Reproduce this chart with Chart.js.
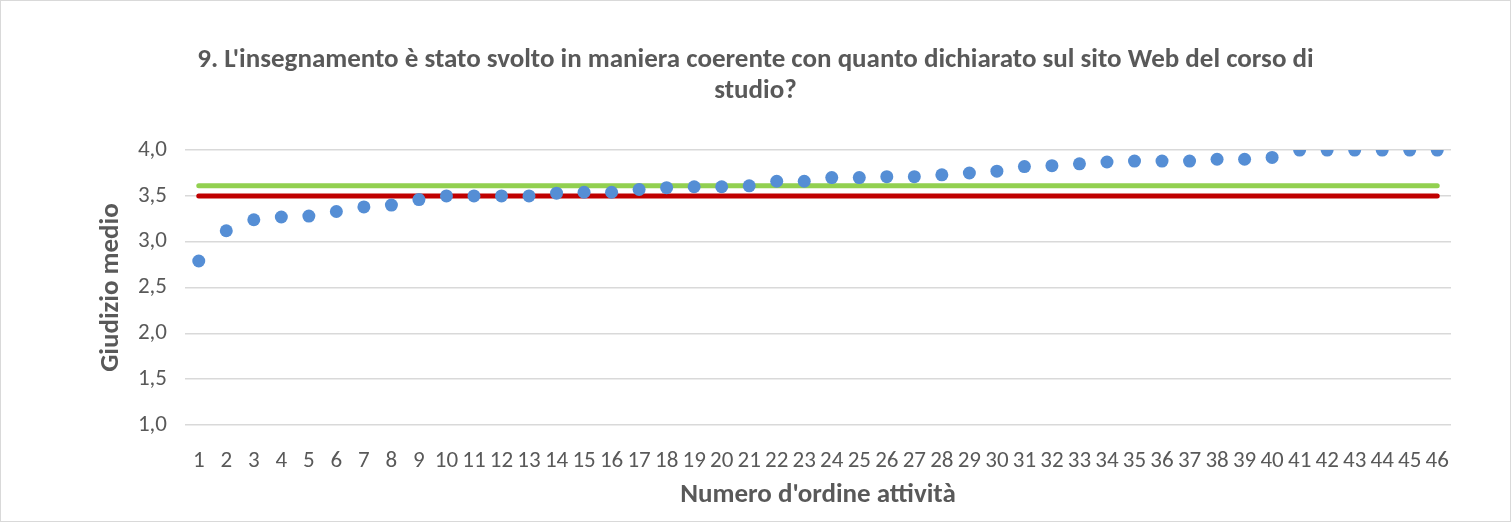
<!DOCTYPE html>
<html lang="it">
<head>
<meta charset="utf-8">
<script src="https://cdn.jsdelivr.net/npm/chart.js@4"></script>
<style>
  body { margin: 0; background: #fff; }
  #contenitore {
    width: 1511px;
    height: 522px;
    box-sizing: border-box;
    border: 1px solid #d9d9d9;
    position: relative;
  }
</style>
</head>
<body>
<div id="contenitore"><canvas id="grafico"></canvas></div>
<script>
const attivita = [
  "1", "2", "3", "4", "5", "6", "7", "8", "9", "10",
  "11", "12", "13", "14", "15", "16", "17", "18", "19", "20",
  "21", "22", "23", "24", "25", "26", "27", "28", "29", "30",
  "31", "32", "33", "34", "35", "36", "37", "38", "39", "40",
  "41", "42", "43", "44", "45", "46",
];

const giudizioMedio = [
  2.79, 3.12, 3.24, 3.27, 3.28, 3.33, 3.38, 3.40, 3.46, 3.50,
  3.50, 3.50, 3.50, 3.53, 3.54, 3.54, 3.57, 3.59, 3.60, 3.60,
  3.61, 3.66, 3.66, 3.70, 3.70, 3.71, 3.71, 3.73, 3.75, 3.77,
  3.82, 3.83, 3.85, 3.87, 3.88, 3.88, 3.88, 3.90, 3.90, 3.92,
  4.00, 4.00, 4.00, 4.00, 4.00, 4.00,
];

// linee di riferimento (verde e rossa)
const mediaVerde = 3.61;
const sogliaRossa = 3.5;

const titolo = [
  "9. L'insegnamento è stato svolto in maniera coerente con quanto dichiarato sul sito Web del corso di",
  "studio?",
];

const FONT = "Carlito, 'Open Sans', sans-serif";
const GRIGIO = "#595959";

const primo = attivita[0];
const ultimo = attivita[attivita.length - 1];

new Chart(document.getElementById("grafico"), {
  type: "line",
  data: {
    labels: attivita,
    datasets: [
      {
        label: "Giudizio medio",
        data: giudizioMedio,
        showLine: false,
        pointRadius: 6.5,
        pointHoverRadius: 6.5,
        pointBackgroundColor: "#558ed5",
        pointBorderWidth: 0,
        order: 0,
      },
      {
        label: "Media",
        data: [{ x: primo, y: mediaVerde }, { x: ultimo, y: mediaVerde }],
        borderColor: "#92d050",
        borderWidth: 5,
        borderCapStyle: "round",
        pointRadius: 0,
        order: 1,
      },
      {
        label: "Soglia",
        data: [{ x: primo, y: sogliaRossa }, { x: ultimo, y: sogliaRossa }],
        borderColor: "#c00000",
        borderWidth: 5,
        borderCapStyle: "round",
        pointRadius: 0,
        order: 1,
      },
    ],
  },
  options: {
    responsive: true,
    maintainAspectRatio: false,
    animation: false,
    // padding uguale ai due lati così il titolo resta centrato
    layout: { padding: { left: 59, right: 59, top: 30, bottom: 6 } },
    plugins: {
      legend: { display: false },
      tooltip: { enabled: false },
      title: {
        display: true,
        text: titolo,
        color: GRIGIO,
        font: { family: FONT, size: 27, weight: "bold", lineHeight: 1.15 },
        padding: { top: 13.5, bottom: 43.5 },
      },
    },
    scales: {
      x: {
        offset: true,
        grid: { display: false, drawTicks: false },
        border: { display: false },
        ticks: {
          color: GRIGIO,
          autoSkip: false,
          maxRotation: 0,
          padding: 22,
          font: { family: FONT, size: 23 },
        },
        title: {
          display: true,
          text: "Numero d'ordine attività",
          color: GRIGIO,
          font: { family: FONT, size: 27, weight: "bold" },
          padding: { top: 4, bottom: 4 },
        },
        afterFit: (scala) => { scala.height = 90; },
      },
      y: {
        min: 1,
        max: 4,
        grid: { color: "#d9d9d9", lineWidth: 1.5, drawTicks: false },
        border: { display: false },
        ticks: {
          stepSize: 0.5,
          color: GRIGIO,
          padding: 18,
          font: { family: FONT, size: 23 },
          callback: (v) => v.toFixed(1).replace(".", ","),
        },
        title: {
          display: true,
          text: "Giudizio medio",
          color: GRIGIO,
          font: { family: FONT, size: 27, weight: "bold" },
          padding: { top: 35, bottom: 4 },
        },
        afterFit: (scala) => { scala.width = 125; },
      },
    },
  },
});
</script>
</body>
</html>
